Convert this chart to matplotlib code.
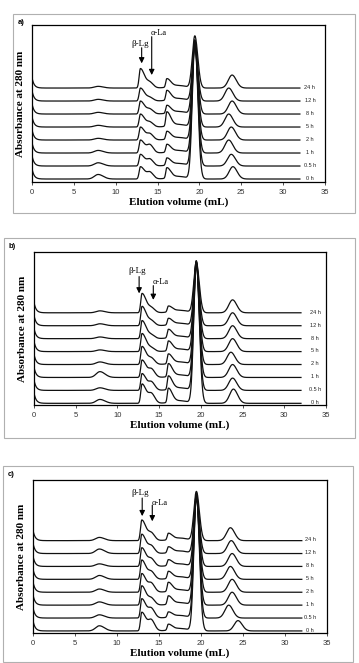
import numpy as np
import matplotlib.pyplot as plt
from matplotlib.patches import Rectangle

# sample labels, bottom trace first
times = ['0 h', '0.5 h', '1 h', '2 h', '5 h', '8 h', '12 h', '24 h']

# peak positions (mL)
pos_main = 19.45
pos_fixed = [7.9, 12.95, 14.1, 16.1]

# peak heights, one value per trace (0 h -> 24 h),
# in units of the vertical offset between traces
a_p8 = [0.35, 0.25, 0.2, 0.13, 0.13, 0.13, 0.13, 0.13]
a_p13 = [0.95, 0.9, 1.0, 1.0, 1.0, 1.0, 1.0, 1.5]
a_p14 = [0.5, 0.5, 0.6, 0.45, 0.35, 0.35, 0.25, 0.4]
a_p16 = [0.8, 0.55, 0.6, 0.6, 1.1, 0.6, 0.75, 0.65]
a_p24 = [0.95, 0.9, 1.0, 1.0, 1.0, 1.0, 1.0, 1.0]
a_pos24 = [24.0, 23.8, 23.5, 23.8, 23.5, 23.9, 23.5, 23.9]
a_top = [10.56, 10.7, 10.4, 10.5, 10.3, 10.56, 10.2, 11.0]

b_p8 = [0.3, 0.2, 0.45, 0.2, 0.13, 0.13, 0.15, 0.15]
b_p13 = [1.5, 1.3, 1.35, 1.4, 1.4, 1.4, 1.5, 1.5]
b_p14 = [0.7, 0.6, 0.6, 0.45, 0.25, 0.25, 0.35, 0.35]
b_p16 = [1.1, 1.05, 1.0, 0.75, 0.75, 0.65, 0.5, 0.45]
b_p24 = [1.1, 0.95, 1.0, 0.95, 1.0, 1.0, 1.0, 1.0]
b_pos24 = [23.9, 23.8, 23.8, 23.6, 23.8, 23.8, 23.8, 23.8]
b_top = [11.0, 10.8, 10.9, 10.7, 11.0, 10.8, 10.6, 10.9]

c_p8 = [0.4, 0.25, 0.25, 0.25, 0.3, 0.2, 0.35, 0.25]
c_p13 = [1.45, 1.5, 1.5, 1.45, 1.5, 1.45, 1.5, 1.6]
c_p14 = [0.8, 0.7, 0.5, 0.65, 0.55, 0.55, 0.55, 0.55]
c_p16 = [0.45, 0.4, 0.65, 0.7, 0.55, 0.45, 0.45, 0.5]
c_p24 = [0.8, 1.0, 1.0, 1.0, 1.0, 1.0, 1.0, 1.0]
c_pos24 = [24.4, 23.3, 23.7, 23.7, 23.5, 23.7, 23.6, 23.5]
c_top = [10.5, 10.6, 10.3, 10.7, 10.4, 10.5, 10.2, 10.8]

xticks = [0, 5, 10, 15, 20, 25, 30, 35]


def peak(x, mu, h, sl, sr):
    s = np.where(x < mu, sl, sr)
    return h * np.exp(-0.5 * ((x - mu) / s) ** 2)


def trace(x, i, p8, p13, p14, p16, p24, pos24, top):
    y = 0.8 * np.exp(-x / 0.25)
    y += peak(x, pos_fixed[0], p8[i], 0.45, 0.6)
    y += peak(x, pos_fixed[1], p13[i], 0.15, 0.5)
    y += peak(x, pos_fixed[2], p14[i], 0.35, 0.4)
    y += peak(x, pos_fixed[3], p16[i], 0.12, 0.45)
    y += peak(x, 17.5, 0.2, 1.0, 0.9)
    y += peak(x, pos_main, top[i] - i, 0.3, 0.35)
    y += peak(x, pos24[i], p24[i], 0.45, 0.5)
    return y + i


W, H = 359, 663
fig = plt.figure(figsize=(W / 100, H / 100), dpi=100)

panels = [
    dict(tag='a)', frame=(13, 14, 355, 213), box=(32, 25, 325, 182), ylim=(-0.23, 11.85),
         data=(a_p8, a_p13, a_p14, a_p16, a_p24, a_pos24, a_top),
         beta=(13.1, 10.4, 10.1, 8.9), alpha=(14.3, 11.2, 10.95, 8.0), lab_x=33.2),
    dict(tag='b)', frame=(4, 238, 355, 438), box=(34, 252, 326, 405), ylim=(-0.13, 11.7),
         data=(b_p8, b_p13, b_p14, b_p16, b_p24, b_pos24, b_top),
         beta=(12.6, 10.2, 9.8, 8.5), alpha=(14.3, 9.4, 9.1, 8.0), lab_x=33.7),
    dict(tag='c)', frame=(3, 466, 353, 662), box=(33, 480, 327, 633), ylim=(-0.16, 11.7),
         data=(c_p8, c_p13, c_p14, c_p16, c_p24, c_pos24, c_top),
         beta=(13.0, 10.7, 10.3, 8.9), alpha=(14.2, 9.9, 9.75, 8.5), lab_x=33.0),
]

x = np.arange(0, 32.001, 0.02)

for p in panels:
    fx0, fy0, fx1, fy1 = p['frame']
    fig.patches.append(Rectangle((fx0 / W, 1 - fy1 / H), (fx1 - fx0) / W, (fy1 - fy0) / H,
                                 transform=fig.transFigure, fill=False,
                                 edgecolor='#b0b0b0', lw=0.8))
    fig.text((fx0 + 5) / W, 1 - (fy0 + 9) / H, p['tag'], fontsize=5.5,
             fontweight='bold', family='Liberation Sans', va='center')

    x0, y0, x1, y1 = p['box']
    ax = fig.add_axes([x0 / W, 1 - y1 / H, (x1 - x0) / W, (y1 - y0) / H])
    for i, t in enumerate(times):
        ax.plot(x, trace(x, i, *p['data']), color='#111111', lw=0.9)
        ax.text(p['lab_x'], i + 0.05, t, fontsize=4, ha='center', va='center',
                family='Liberation Sans', color='#222222')

    bx, bty, ba0, ba1 = p['beta']
    ax.annotate('', xy=(bx, ba1), xytext=(bx, ba0),
                arrowprops=dict(arrowstyle='-|>', color='black', lw=0.8,
                                mutation_scale=8, shrinkA=0, shrinkB=0))
    ax.text(bx - 0.2, bty, 'β-Lg', fontsize=6.5, ha='center', va='center',
            family='Liberation Serif')
    axx, aty, aa0, aa1 = p['alpha']
    ax.annotate('', xy=(axx, aa1), xytext=(axx, aa0),
                arrowprops=dict(arrowstyle='-|>', color='black', lw=0.8,
                                mutation_scale=8, shrinkA=0, shrinkB=0))
    ax.text(axx - 0.1, aty, 'α-La', fontsize=6, ha='left', va='center',
            family='Liberation Serif')

    ax.set_xlim(0, 35)
    ax.set_ylim(*p['ylim'])
    ax.set_xticks(xticks)
    ax.set_yticks([])
    ax.tick_params(axis='x', labelsize=5.5, length=2.5, width=0.6, pad=2.5, colors='#333333')
    for lbl in ax.get_xticklabels():
        lbl.set_family('Liberation Sans')
    for s in ax.spines.values():
        s.set_linewidth(0.9)
    ax.set_xlabel('Elution volume (mL)', fontsize=8, fontweight='bold',
                  family='Liberation Serif', labelpad=1)
    ax.set_ylabel('Absorbance at 280 nm', fontsize=8, fontweight='bold',
                  family='Liberation Serif', labelpad=5)

fig.savefig('out.png', dpi=100)
